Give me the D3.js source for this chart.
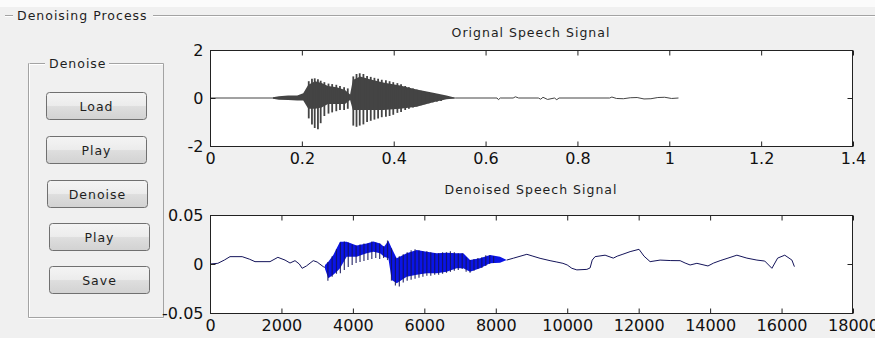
<!DOCTYPE html>
<html>
<head>
<meta charset="utf-8">
<script src="https://cdn.jsdelivr.net/npm/d3@7"></script>
<style>
  html, body { margin: 0; padding: 0; background: #f0f0f0; }
  svg { display: block; }
  text { font-family: "DejaVu Sans", Verdana, sans-serif; }
</style>
</head>
<body>
<svg class="chart" width="875" height="338"></svg>
<script>
// ---- data ----
var buttonLabels = ["Load", "Play", "Denoise", "Play", "Save"];

// original speech signal (seconds, amplitude)
var origLineT = [0, 0.137, 0.535, 0.625, 0.628, 0.632, 0.66, 0.665, 0.672, 0.715, 0.72, 0.725, 0.735, 0.75, 0.755, 0.76,
                 0.87, 0.875, 0.885, 0.9, 0.915, 0.93, 0.945, 0.96, 0.975, 0.99, 1.005, 1.02];
var origLineV = [0, 0, 0, 0, -0.07, 0, 0, 0.05, 0, 0, -0.05, 0.03, -0.06, 0, -0.07, 0,
                 0, 0.04, -0.02, -0.03, 0.01, 0.02, -0.04, -0.03, 0.02, 0.03, -0.02, 0];
var origBodyT  = [0.137, 0.15, 0.17, 0.19, 0.203, 0.214, 0.229, 0.243, 0.257, 0.276, 0.294, 0.305, 0.311, 0.327, 0.348, 0.377, 0.414, 0.45, 0.486, 0.515, 0.532];
var origBodyHi = [0.03, 0.07, 0.1, 0.1, 0.2, 0.55, 0.7, 0.62, 0.5, 0.45, 0.33, 0.15, 0.75, 0.9, 0.78, 0.65, 0.52, 0.35, 0.22, 0.1, 0.02];
var origBodyLo = [-0.03, -0.07, -0.08, -0.1, -0.1, -0.45, -0.45, -0.4, -0.25, -0.25, -0.25, -0.08, -0.5, -0.5, -0.5, -0.5, -0.45, -0.36, -0.18, -0.05, -0.02];
var origSpikeT  = [0.215, 0.222, 0.228, 0.235, 0.241, 0.249, 0.258, 0.266, 0.275, 0.283, 0.292, 0.300,
                   0.312, 0.319, 0.326, 0.334, 0.342, 0.350, 0.358, 0.366, 0.374, 0.383, 0.391, 0.399,
                   0.408, 0.416, 0.425, 0.433, 0.442, 0.450, 0.459, 0.467, 0.476, 0.485, 0.494, 0.503];
var origSpikeLo = [-0.85, -1.1, -1.25, -1.3, -1.05, -0.75, -0.65, -0.6, -0.55, -0.5, -0.5, -0.45,
                   -1.15, -1.2, -1.15, -1.1, -1.0, -0.95, -0.9, -0.85, -0.8, -0.78, -0.75, -0.7,
                   -0.62, -0.58, -0.5, -0.45, -0.4, -0.35, -0.3, -0.26, -0.22, -0.18, -0.15, -0.12];
var origSpikeHi = [0.7, 0.8, 0.82, 0.78, 0.72, 0.66, 0.6, 0.58, 0.55, 0.5, 0.45, 0.4,
                   0.9, 1.0, 1.03, 1.0, 0.92, 0.88, 0.84, 0.8, 0.76, 0.74, 0.7, 0.66,
                   0.62, 0.57, 0.5, 0.45, 0.4, 0.35, 0.3, 0.26, 0.24, 0.2, 0.15, 0.12];

// denoised speech signal (sample index, amplitude)
var denPreN = [0, 220, 400, 560, 900, 1100, 1260, 1680, 1900, 2100, 2240, 2380, 2500, 2580, 2700, 2890, 3000, 3170, 3260];
var denPreV = [0, 0.0007, 0.004, 0.0075, 0.0075, 0.005, 0.0024, 0.0024, 0.0068, 0.004, 0.001, 0.0034, 0, -0.0044, -0.002, 0.0034, 0.002, -0.0027, -0.004];
var denPostN = [8306, 8500, 8870, 9040, 9240, 9520, 9710, 9880, 10000, 10130, 10270, 10550, 10640, 10700, 10780, 11060, 11290, 11400, 11560, 11760,
                12010, 12150, 12320, 12600, 12900, 13160, 13300, 13440, 13630, 13940, 14100, 14280, 14500, 14750, 15030, 15310, 15530, 15730,
                15890, 16090, 16290, 16360];
var denPostV = [0.004, 0.006, 0.0099, 0.008, 0.0058, 0.0034, 0.002, 0.0007, -0.001, -0.0044, -0.006, -0.0055, -0.004, 0.004, 0.0075, 0.009, 0.006, 0.008, 0.010, 0.0126,
                0.015, 0.008, 0.0024, 0.004, 0.0035, 0.0034, 0.001, -0.001, 0.0007, -0.002, 0.001, 0.0034, 0.006, 0.009, 0.006, 0.004, 0.003, -0.0044,
                0.006, 0.009, 0.004, -0.0027];
var denBodyN  = [3220, 3312, 3452, 3546, 3640, 3826, 4106, 4386, 4573, 4760, 4872, 4993, 5087, 5226, 5506, 5786, 6066, 6346, 6626, 6906, 7090, 7279, 7559, 7839, 8119, 8306];
var denBodyHi = [-0.001, 0.0024, 0.0092, 0.016, 0.0228, 0.0228, 0.019, 0.021, 0.023, 0.021, 0.0177, 0.0238, 0.016, 0.0058, 0.011, 0.0143, 0.0126, 0.011, 0.0116, 0.011, 0.011, 0.004, 0.0058, 0.0092, 0.0075, 0.004];
var denBodyLo = [-0.005, -0.0146, -0.011, -0.0078, -0.0044, 0.0075, 0.0075, 0.011, 0.0126, 0.011, 0.0075, 0.0058, -0.0163, -0.0197, -0.013, -0.011, -0.0095, -0.0095, -0.0078, -0.0044, -0.0044, -0.0078, -0.0044, 0.0007, 0.0013, 0.004];
var denSpikeN  = [3300, 3420, 3540, 3650, 3760, 3870, 3980, 4090, 4200, 4310, 4420, 4530, 4640, 4750, 4860, 4970,
                  5080, 5190, 5300, 5410, 5520, 5630, 5740, 5850, 5960, 6070, 6180, 6290, 6400, 6510, 6620, 6730,
                  6840, 6950, 7060, 7170, 7280, 7390, 7500, 7610, 7720, 7830, 7940];
var denSpikeLo = [-0.017, -0.013, -0.010, -0.0095, -0.006, -0.003, -0.001, 0.001, 0.002, 0.003, 0.004, 0.005, 0.006, 0.005, 0.006, 0.004,
                  -0.017, -0.022, -0.023, -0.019, -0.017, -0.016, -0.015, -0.014, -0.013, -0.012, -0.012, -0.011, -0.011, -0.010, -0.009, -0.008,
                  -0.007, -0.006, -0.005, -0.008, -0.009, -0.007, -0.005, -0.004, -0.002, 0.000, 0.001];
var denSpikeHi = [0.002, 0.008, 0.015, 0.022, 0.023, 0.022, 0.020, 0.019, 0.020, 0.021, 0.021, 0.023, 0.022, 0.021, 0.018, 0.024,
                  0.016, 0.007, 0.008, 0.010, 0.012, 0.014, 0.015, 0.014, 0.013, 0.013, 0.012, 0.011, 0.011, 0.012, 0.012, 0.013,
                  0.012, 0.011, 0.011, 0.007, 0.004, 0.005, 0.006, 0.007, 0.009, 0.009, 0.008];

var topXTicks = [0, 0.2, 0.4, 0.6, 0.8, 1, 1.2, 1.4];
var topYTicks = [-2, 0, 2];
var botXTicks = [0, 2000, 4000, 6000, 8000, 10000, 12000, 14000, 16000, 18000];
var botYTicks = [-0.05, 0, 0.05];

// ---- drawing ----
var svg = d3.select(".chart");
svg.append("rect").attr("width", 875).attr("height", 338).attr("fill", "#f0f0f0");
svg.append("rect").attr("width", 875).attr("height", 7).attr("fill", "#fbfbfb");

var label = { "font-size": "12.5px", "letter-spacing": "1px", "fill": "#1e1e1e" };
function styleText(sel) {
    Object.keys(label).forEach(function(k) { sel.style(k, label[k]); });
    return sel;
}
function etched(x1, y1, x2, y2) {
    svg.append("line").attr("x1", x1).attr("y1", y1 + 1).attr("x2", x2).attr("y2", y2 + 1)
        .attr("stroke", "#ffffff");
    svg.append("line").attr("x1", x1).attr("y1", y1).attr("x2", x2).attr("y2", y2)
        .attr("stroke", "#a3a3a3");
}

// outer group box
etched(5, 15.5, 13, 15.5);
etched(153, 15.5, 875, 15.5);
styleText(svg.append("text").attr("x", 17).attr("y", 20).text("Denoising Process"));

// inner group box
etched(28.5, 63.5, 45, 63.5);
etched(109, 63.5, 163.5, 63.5);
etched(28.5, 317.5, 163.5, 317.5);
svg.append("line").attr("x1", 29.5).attr("y1", 63.5).attr("x2", 29.5).attr("y2", 317).attr("stroke", "#fff");
svg.append("line").attr("x1", 28.5).attr("y1", 63.5).attr("x2", 28.5).attr("y2", 317.5).attr("stroke", "#a3a3a3");
svg.append("line").attr("x1", 163.5).attr("y1", 63.5).attr("x2", 163.5).attr("y2", 317.5).attr("stroke", "#a3a3a3");
styleText(svg.append("text").attr("x", 49).attr("y", 68).text("Denoise"));

// buttons
var defs = svg.append("defs");
var grad = defs.append("linearGradient").attr("id", "btn").attr("x1", 0).attr("y1", 0).attr("x2", 0).attr("y2", 1);
grad.append("stop").attr("offset", "0%").attr("stop-color", "#f4f4f4");
grad.append("stop").attr("offset", "48%").attr("stop-color", "#ececec");
grad.append("stop").attr("offset", "52%").attr("stop-color", "#dedede");
grad.append("stop").attr("offset", "100%").attr("stop-color", "#d2d2d2");

var btnX = [46, 46, 47, 49, 49], btnY = [92.5, 136.5, 180.5, 223.5, 266.5];
var btn = svg.selectAll("g.btn").data(buttonLabels).enter().append("g")
    .attr("class", "btn")
    .attr("transform", function(d, i) { return "translate(" + (btnX[i] + 0.5) + "," + btnY[i] + ")"; });
btn.append("rect").attr("width", 100).attr("height", 27).attr("rx", 3)
    .attr("fill", "url(#btn)").attr("stroke", "#707070");
styleText(btn.append("text").attr("x", 50).attr("y", 18).attr("text-anchor", "middle").text(function(d) { return d; }));

// axes helper
function panel(xDom, yDom, top, bottom, xTicks, yTicks, title, titleY) {
    var x = d3.scaleLinear().domain(xDom).range([210, 853]);
    var y = d3.scaleLinear().domain(yDom).range([bottom, top]);
    var g = svg.append("g");
    g.append("rect").attr("x", 210).attr("y", top).attr("width", 643).attr("height", bottom - top).attr("fill", "#fff");
    styleText(svg.append("text").attr("x", 531).attr("y", titleY).attr("text-anchor", "middle").text(title));
    return { x: x, y: y, g: g, top: top, bottom: bottom, xTicks: xTicks, yTicks: yTicks };
}
function frame(p) {
    var fmt = function(d) { return String(d); };
    var ax = svg.append("g");
    ax.append("g").attr("transform", "translate(0," + (p.bottom + 0.5) + ")")
        .call(d3.axisBottom(p.x).tickValues(p.xTicks).tickSize(-5).tickPadding(6).tickFormat(fmt));
    ax.append("g").attr("transform", "translate(0," + (p.top + 0.5) + ")")
        .call(d3.axisTop(p.x).tickValues(p.xTicks).tickSize(-5).tickFormat(""));
    ax.append("g").attr("transform", "translate(210.5,0)")
        .call(d3.axisLeft(p.y).tickValues(p.yTicks).tickSize(-5).tickPadding(7).tickFormat(fmt));
    ax.append("g").attr("transform", "translate(852.5,0)")
        .call(d3.axisRight(p.y).tickValues(p.yTicks).tickSize(-5).tickFormat(""));
    ax.selectAll(".domain").remove();
    ax.selectAll(".tick line").attr("stroke", "#222");
    ax.selectAll(".tick text").attr("fill", "#111")
        .style("font-family", "'DejaVu Sans', sans-serif").style("font-size", "16px");
    svg.append("rect").attr("x", 210.5).attr("y", p.top + 0.5).attr("width", 642).attr("height", p.bottom - p.top)
        .attr("fill", "none").attr("stroke", "#222");
}

// top panel: original speech
var p1 = panel([0, 1.4], [-2, 2], 50, 146, topXTicks, topYTicks, "Orignal Speech Signal", 37);
var gray = "#444444";
p1.g.append("path")
    .datum(origLineT.map(function(t, i) { return [t, origLineV[i]]; }))
    .attr("fill", "none").attr("stroke", gray).attr("stroke-width", 1)
    .attr("d", d3.line().x(function(d) { return p1.x(d[0]); }).y(function(d) { return p1.y(d[1]); }));
p1.g.append("path")
    .datum(origBodyT.map(function(t, i) { return [t, origBodyLo[i], origBodyHi[i]]; }))
    .attr("fill", gray)
    .attr("d", d3.area().x(function(d) { return p1.x(d[0]); })
        .y0(function(d) { return p1.y(d[1]); }).y1(function(d) { return p1.y(d[2]); }));
p1.g.selectAll("line.sp").data(origSpikeT).enter().append("line")
    .attr("x1", function(d) { return p1.x(d); }).attr("x2", function(d) { return p1.x(d); })
    .attr("y1", function(d, i) { return p1.y(origSpikeHi[i]); })
    .attr("y2", function(d, i) { return p1.y(origSpikeLo[i]); })
    .attr("stroke", gray).attr("stroke-width", 1.8);
frame(p1);

// bottom panel: denoised speech
var p2 = panel([0, 18000], [-0.05, 0.05], 215, 313, botXTicks, botYTicks, "Denoised Speech Signal", 194);
var navy = "#14145a", blue = "#0a14e6";
var line2 = d3.line().x(function(d) { return p2.x(d[0]); }).y(function(d) { return p2.y(d[1]); });
[[denPreN, denPreV], [denPostN, denPostV]].forEach(function(s) {
    p2.g.append("path")
        .datum(s[0].map(function(n, i) { return [n, s[1][i]]; }))
        .attr("fill", "none").attr("stroke", navy).attr("stroke-width", 1).attr("d", line2);
});
p2.g.append("path")
    .datum(denBodyN.map(function(n, i) { return [n, denBodyLo[i], denBodyHi[i]]; }))
    .attr("fill", blue)
    .attr("d", d3.area().x(function(d) { return p2.x(d[0]); })
        .y0(function(d) { return p2.y(d[1]); }).y1(function(d) { return p2.y(d[2]); }));
p2.g.selectAll("line.sp").data(denSpikeN).enter().append("line")
    .attr("x1", function(d) { return p2.x(d); }).attr("x2", function(d) { return p2.x(d); })
    .attr("y1", function(d, i) { return p2.y(denSpikeLo[i]); })
    .attr("y2", function(d, i) { return p2.y(denSpikeHi[i]); })
    .attr("stroke", navy).attr("stroke-width", 1.2).attr("stroke-opacity", 0.85);
frame(p2);
</script>
</body>
</html>
